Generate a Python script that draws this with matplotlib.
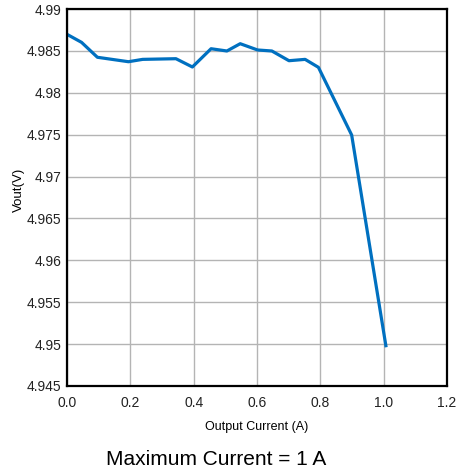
import numpy as np
import matplotlib.pyplot as plt
from matplotlib.ticker import FormatStrFormatter

plt.rcParams['font.family'] = ['Liberation Sans', 'DejaVu Sans']

# output current (A) and output voltage (V)
current = [0.0, 0.046, 0.096, 0.194, 0.239, 0.344, 0.396, 0.455, 0.505,
           0.547, 0.602, 0.647, 0.701, 0.752, 0.794, 0.899, 1.007]
vout = [4.98698, 4.98602, 4.98424, 4.98371, 4.98399, 4.98407, 4.98308,
        4.98526, 4.98499, 4.98586, 4.98511, 4.98499, 4.98383, 4.98399,
        4.98304, 4.97496, 4.94981]

xticks = [0.0, 0.2, 0.4, 0.6, 0.8, 1.0, 1.2]
yticks = [4.945, 4.95, 4.955, 4.96, 4.965, 4.97, 4.975, 4.98, 4.985, 4.99]
ytick_labels = ['4.945', '4.95', '4.955', '4.96', '4.965', '4.97', '4.975',
                '4.98', '4.985', '4.99']

fig = plt.figure(figsize=(4.63, 4.75), dpi=100)
ax = fig.add_axes([0.1447, 0.1874, 0.8207, 0.7936])

ax.plot(current, vout, color='#0070C0', linewidth=2.3, solid_joinstyle='round')

ax.set_xlim(0, 1.2)
ax.set_ylim(4.945, 4.99)
ax.set_xticks(xticks)
ax.xaxis.set_major_formatter(FormatStrFormatter('%.1f'))
ax.set_yticks(yticks)
ax.set_yticklabels(ytick_labels)
ax.tick_params(axis='both', length=0, labelsize=10, colors='#222222')
ax.tick_params(axis='x', pad=7)
ax.tick_params(axis='y', pad=4)

ax.grid(True, color='#b4b4b4', linewidth=1)
ax.set_axisbelow(True)
for s in ax.spines.values():
    s.set_linewidth(1.6)
    s.set_color('black')

ax.set_xlabel('Output Current (A)', fontsize=9, labelpad=8)
ax.set_ylabel('Vout(V)', fontsize=9.5)
ax.yaxis.set_label_coords(-0.11, 0.52)

fig.text(0.466, 0.012, 'Maximum Current = 1 A', fontsize=15, ha='center', va='bottom')

fig.savefig('out.png', dpi=100)
